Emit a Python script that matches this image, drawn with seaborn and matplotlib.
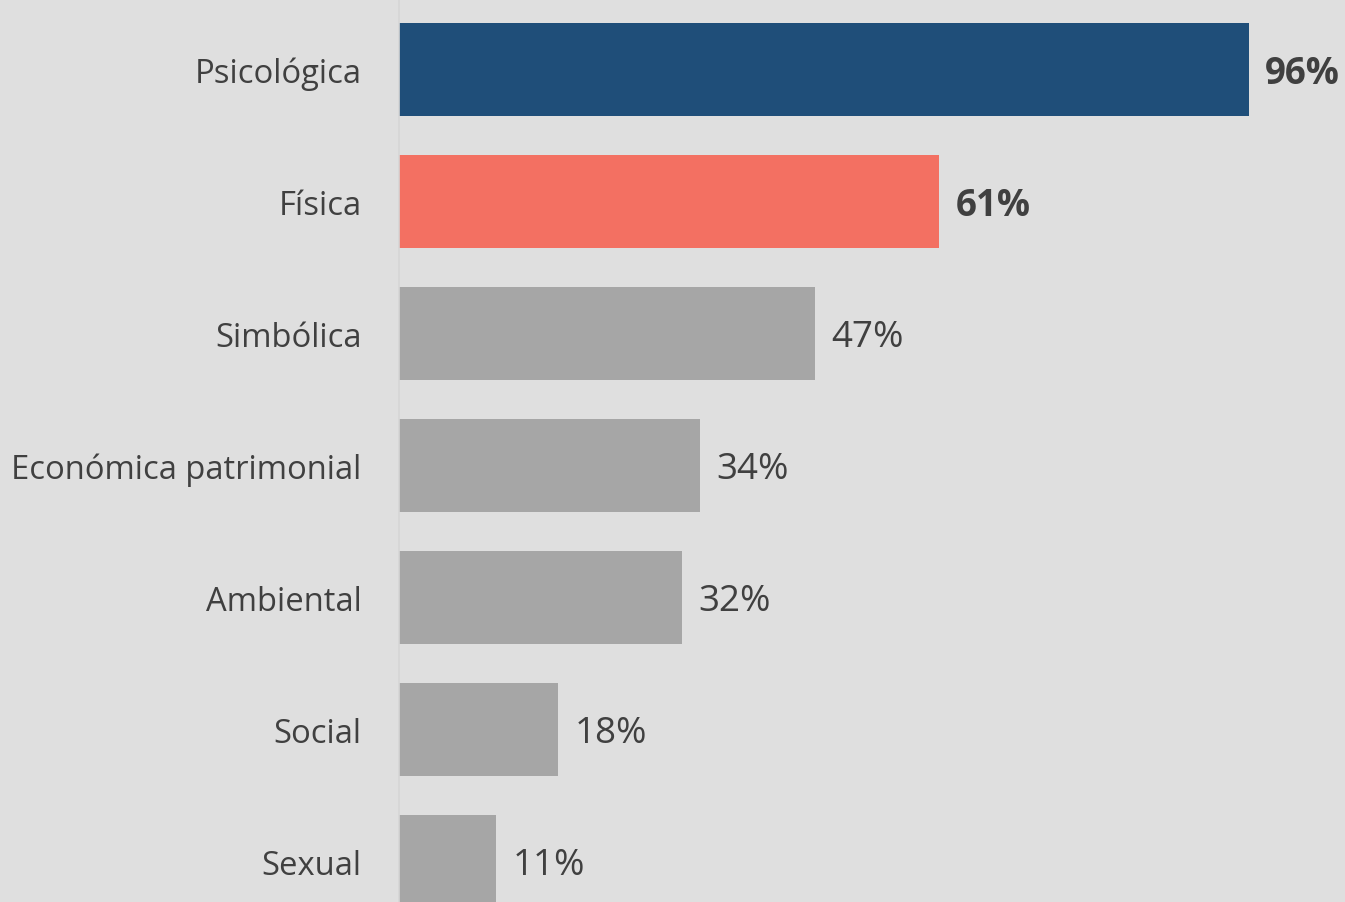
import matplotlib.pyplot as plt
import pandas as pd
import seaborn as sns

categories = ["Psicológica", "Física", "Simbólica", "Económica patrimonial",
              "Ambiental", "Social", "Sexual"]
values = [96, 61, 47, 34, 32, 18, 11]
bar_colors = ["#1f4e79", "#f37062", "#a6a6a6", "#a6a6a6", "#a6a6a6",
              "#a6a6a6", "#a6a6a6"]
bold_labels = [True, True, False, False, False, False, False]

BG = "#dfdfdf"
TEXT = "#404040"


def makeBarPlot(df, outputName):
    sns.set_theme(style="white", rc={"figure.facecolor": BG,
                                     "axes.facecolor": BG})
    plt.rcParams["font.family"] = ["Open Sans", "DejaVu Sans"]

    fig = plt.figure(figsize=(13.45, 9.03), dpi=100)
    ax = fig.add_axes([399 / 1345, 0, 1 - 399 / 1345, 1])

    sns.barplot(data=df, x="value", y="category", hue="category",
                palette=dict(zip(categories, bar_colors)), legend=False,
                width=0.705, saturation=1, linewidth=0, ax=ax)

    ax.set_xlim(0, 106.8)
    ax.set_ylim(6.307, -0.534)
    ax.set_xlabel("")
    ax.set_ylabel("")
    ax.set_xticks([])

    for side in ["top", "right", "bottom"]:
        ax.spines[side].set_visible(False)
    ax.spines["left"].set_color("#d6d6d6")
    ax.spines["left"].set_linewidth(1.2)

    ax.tick_params(axis="y", length=0, pad=27, labelsize=23.6,
                   labelcolor=TEXT)

    for i, (v, b) in enumerate(zip(df["value"], bold_labels)):
        ax.text(v + 1.8, i + 0.03, f"{v}%", va="center", ha="left",
                fontsize=26.5, color=TEXT,
                fontweight="bold" if b else "normal")

    fig.savefig(outputName, dpi=100, facecolor=BG)
    plt.close(fig)


def main():
    df = pd.DataFrame({"category": categories, "value": values})
    makeBarPlot(df, "out.png")


if __name__ == "__main__":
    main()
